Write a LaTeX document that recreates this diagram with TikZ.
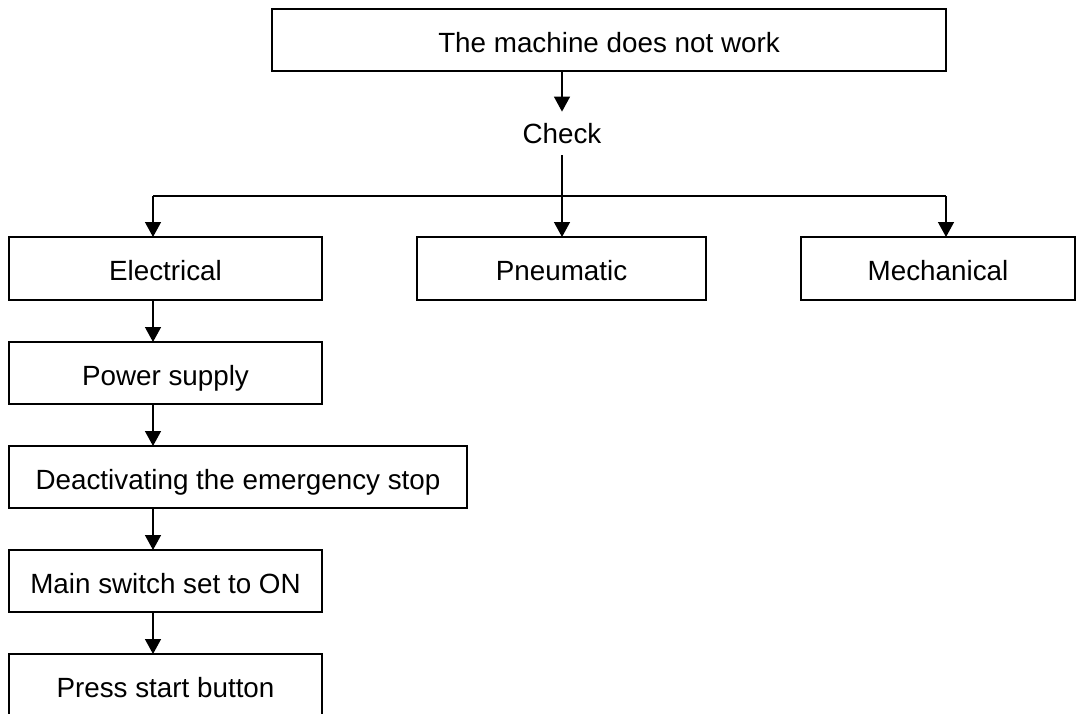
\documentclass[tikz,border=0pt]{standalone}
\usepackage{fontspec}
\setmainfont{Liberation Sans}
\usetikzlibrary{arrows.meta,positioning}
\begin{document}
\begin{tikzpicture}[x=0.5pt,y=-0.5pt] % 1 unit = 1 px, y axis goes down
\tikzstyle{mybox} = [draw, line width=1pt, rectangle, anchor=north west, inner sep=0pt, outer sep=0pt, text height=12pt, text depth=0pt, font=\fontsize{13.9}{16}\selectfont] % block style
\tikzstyle{mylabel} = [inner sep=0pt, font=\fontsize{13.9}{16}\selectfont] % free text style
\tikzstyle{myarrow} = [line width=0.7pt, -{Triangle[length=7.5pt,width=8pt]}] % arrow style
\tikzstyle{mybus} = [line width=1.4pt] % thick bus line

\useasboundingbox (0,0) rectangle (1079,713);
\clip (0,0) rectangle (1079,713);

\node[mybox, minimum width=337pt, minimum height=31pt] (top) at (272,9) {The machine does not work};
\node[mylabel, minimum height=21.5pt] (check) at (562,133.5) {Check};

% first row
\node[mybox, minimum width=156.5pt, minimum height=31.5pt] (elec) at (9,237) {Electrical};
\node[mybox, minimum width=144.5pt, minimum height=31.5pt] (pneu) at (417,237) {Pneumatic};
\node[mybox, minimum width=137pt, minimum height=31.5pt] (mech) at (801,237) {Mechanical};

% left column
\node[mybox, minimum width=156.5pt, minimum height=31pt, below=21pt of elec.south west, anchor=north west] (power) {Power supply};
\node[mybox, minimum width=229pt, minimum height=31pt, below=21pt of power.south west, anchor=north west] (deact) {Deactivating the emergency stop};
\node[mybox, minimum width=156.5pt, minimum height=31pt, below=21pt of deact.south west, anchor=north west] (main) {Main switch set to ON};
\node[mybox, minimum width=156.5pt, minimum height=31pt, below=21pt of main.south west, anchor=north west] (press) {Press start button};

\coordinate (ax) at (153,0); % left arrows
\coordinate (mx) at (946,0); % right arrow
\coordinate (bus) at (562,196);

\draw[myarrow] (top.south -| check) -- (check.north);
\draw[line width=0.7pt] (check.south) -- (bus);
\draw[mybus] (bus -| ax) -- (bus -| mx);
\foreach \n/\c in {elec/ax, pneu/bus, mech/mx}
    \draw[myarrow] (bus -| \c) -- (\n.north -| \c);
\foreach \a/\b in {elec/power, power/deact, deact/main, main/press}
    \draw[myarrow] (\a.south -| ax) -- (\b.north -| ax);
\end{tikzpicture}
\end{document}
